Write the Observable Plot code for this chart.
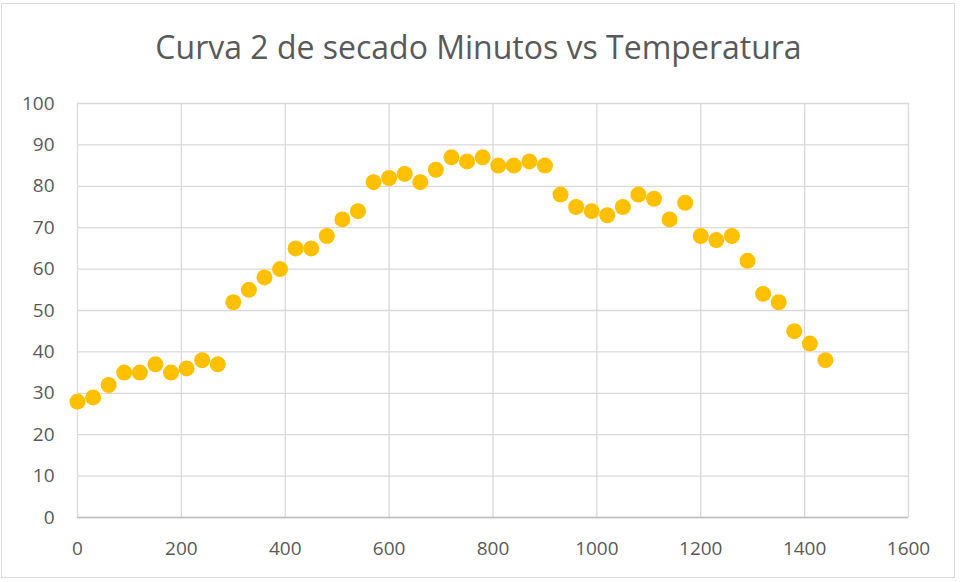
<!DOCTYPE html>
<html>
<head>
<meta charset="utf-8">
<script src="https://cdn.jsdelivr.net/npm/d3@7"></script>
<script src="https://cdn.jsdelivr.net/npm/@observablehq/plot@0.6"></script>
<style>
  body { margin: 0; background: #fff; }
  #frame { position: absolute; left: 1px; top: 3px; width: 954px; height: 575px; border: 1px solid #d9d9d9; box-sizing: border-box; }
  #title { position: absolute; left: 0; top: 25px; width: 957px; text-align: center; font-family: "Open Sans", sans-serif; font-size: 32px; color: #595959; line-height: 44px; }
  #chart { position: absolute; left: 0; top: 0; }
</style>
</head>
<body>
<div id="frame"></div>
<div id="title">Curva 2 de secado Minutos vs Temperatura</div>
<div id="chart"></div>
<script>
const minutos = [0,30,60,90,120,150,180,210,240,270,300,330,360,390,420,450,480,510,540,570,600,630,660,690,720,750,780,810,840,870,900,930,960,990,1020,1050,1080,1110,1140,1170,1200,1230,1260,1290,1320,1350,1380,1410,1440];
const temperatura = [28,29,32,35,35,37,35,36,38,37,52,55,58,60,65,65,68,72,74,81,82,83,81,84,87,86,87,85,85,86,85,78,75,74,73,75,78,77,72,76,68,67,68,62,54,52,45,42,38];
const xTicks = [0,200,400,600,800,1000,1200,1400,1600];
const yTicks = [0,10,20,30,40,50,60,70,80,90,100];

const data = minutos.map((m, i) => ({m, t: temperatura[i]}));

const chart = Plot.plot({
  width: 965,
  height: 582,
  marginLeft: 77,
  marginRight: 57,
  marginTop: 103,
  marginBottom: 65,
  style: { fontFamily: "'Open Sans', sans-serif", fontSize: "19px", color: "#595959", background: "transparent" },
  x: { domain: [0, 1600], ticks: xTicks, label: null, tickSize: 0, tickPadding: 24 },
  y: { domain: [0, 100], ticks: yTicks, label: null, tickSize: 0, tickPadding: 24 },
  marks: [
    Plot.gridX(xTicks, { stroke: "#d9d9d9", strokeOpacity: 1, strokeWidth: 1.3 }),
    Plot.gridY(yTicks, { stroke: "#d9d9d9", strokeOpacity: 1, strokeWidth: 1.3 }),
    Plot.ruleY([0], { stroke: "#bfbfbf", strokeWidth: 1.3 }),
    Plot.axisX(xTicks, { tickSize: 0, tickPadding: 24, fill: "#595959", label: null, tickFormat: d => String(d) }),
    Plot.axisY(yTicks, { tickSize: 0, tickPadding: 23, fill: "#595959", label: null, tickFormat: d => String(d) }),
    Plot.dot(data, { x: "m", y: "t", r: 8, fill: "#FFC000", stroke: "none" })
  ]
});
document.getElementById("chart").appendChild(chart);
</script>
</body>
</html>
